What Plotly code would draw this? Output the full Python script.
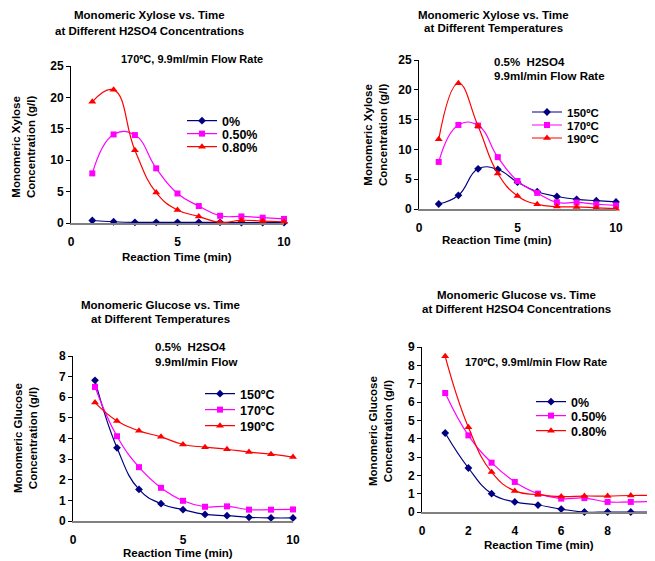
import plotly.graph_objects as go

# the page body adds an 8px margin, so the figure is drawn from (8, 8)
OFF = 8
W, H = 655 - OFF, 561 - OFF

time_min = [1, 2, 3, 4, 5, 6, 7, 8, 9, 10]

# Panel 1: Monomeric xylose vs time at different H2SO4 concentrations (170ºC)
xyl_acid_names = ["0%", "0.50%", "0.80%"]
xyl_acid_0 = [0.4, 0.2, 0.1, 0.1, 0.1, 0.1, 0.1, 0.05, 0.05, 0.05]
xyl_acid_050 = [7.9, 14.1, 14.0, 8.7, 4.7, 2.7, 1.15, 1.05, 0.85, 0.65]
xyl_acid_080 = [19.3, 21.2, 11.6, 4.85, 2.07, 1.05, 0.1, 0.43, 0.3, 0.2]

# Panel 2: Monomeric xylose vs time at different temperatures (0.5% H2SO4)
xyl_temp_names = ["150ºC", "170ºC", "190ºC"]
xyl_temp_150 = [0.84, 2.3, 6.74, 6.63, 4.5, 2.9, 2.1, 1.63, 1.4, 1.18]
xyl_temp_170 = [7.9, 14.1, 14.0, 8.7, 4.7, 2.7, 1.12, 1.1, 0.8, 0.6]
xyl_temp_190 = [11.7, 21.1, 13.9, 5.96, 2.2, 0.8, 0.4, 0.35, 0.2, 0.05]

# Panel 3: Monomeric glucose vs time at different temperatures (0.5% H2SO4)
glu_temp_names = ["150ºC", "170ºC", "190ºC"]
glu_temp_150 = [6.82, 3.55, 1.53, 0.84, 0.55, 0.32, 0.26, 0.18, 0.15, 0.15]
glu_temp_170 = [6.5, 4.11, 2.61, 1.61, 0.98, 0.69, 0.71, 0.55, 0.55, 0.56]
glu_temp_190 = [5.74, 4.85, 4.37, 4.08, 3.71, 3.58, 3.48, 3.34, 3.24, 3.1]

# Panel 4: Monomeric glucose vs time at different H2SO4 concentrations (170ºC)
glu_acid_names = ["0%", "0.50%", "0.80%"]
glu_acid_0 = [4.31, 2.4, 1.0, 0.55, 0.38, 0.16, 0.0, 0.0, 0.0, 0.0]
glu_acid_050 = [6.49, 4.18, 2.69, 1.64, 1.0, 0.73, 0.76, 0.55, 0.55, 0.58]
glu_acid_080 = [8.49, 4.62, 2.18, 1.15, 0.95, 0.84, 0.87, 0.87, 0.9, 0.9]

colors = ["#000080", "#FF00FF", "#FF0000"]
symbols = ["diamond", "square", "triangle-up"]
msizes = [6, 6, 7]
FONT = "Liberation Sans, Arial, sans-serif"


def px(x):
    return (x - OFF) / W


def py(y):
    return 1 - (y - OFF) / H


# per-panel legend placement: text-left x, centre y of each entry (window pixels), font size
legend_text_x = [222, 567, 240, 571]
legend_rows = [[121, 134, 147], [112, 125, 138], [394, 410, 426], [402, 416, 431]]
legend_font = [12.5, 11.5, 12.5, 12.5]

panels = [
    dict(xa="x", ya="y", names=xyl_acid_names,
         series=[xyl_acid_0, xyl_acid_050, xyl_acid_080]),
    dict(xa="x2", ya="y2", names=xyl_temp_names,
         series=[xyl_temp_150, xyl_temp_170, xyl_temp_190]),
    dict(xa="x3", ya="y3", names=glu_temp_names,
         series=[glu_temp_150, glu_temp_170, glu_temp_190]),
    dict(xa="x4", ya="y4", names=glu_acid_names,
         series=[glu_acid_0, glu_acid_050, glu_acid_080]),
]

fig = go.Figure()
layout = dict(
    width=W, height=H, margin=dict(l=0, r=0, t=0, b=0, autoexpand=False),
    paper_bgcolor="white", plot_bgcolor="white", showlegend=True,
    font=dict(family=FONT, size=11, color="#000000"),
)

leg_n = 0
for k, p in enumerate(panels):
    for i, (name, vals) in enumerate(zip(p["names"], p["series"])):
        leg_n += 1
        lkey = "legend" if leg_n == 1 else "legend" + str(leg_n)
        fig.add_trace(go.Scatter(
            x=time_min, y=vals, name=name, mode="lines+markers",
            xaxis=p["xa"], yaxis=p["ya"], legend=lkey, showlegend=True,
            line=dict(color=colors[i], width=1.2, shape="spline", smoothing=1.3),
            marker=dict(color=colors[i], symbol=symbols[i], size=msizes[i]),
            cliponaxis=False,
        ))
        layout[lkey] = dict(
            x=px(legend_text_x[k] - 40), y=py(legend_rows[k][i]),
            xanchor="left", yanchor="middle", visible=True,
            bgcolor="rgba(0,0,0,0)", borderwidth=0, tracegroupgap=0,
            font=dict(family=FONT, size=legend_font[k], color="#000000", weight="bold"),
            itemwidth=30,
        )

# axis pixel boxes: (x0, x1, ytop, ybottom), y max, y dtick, x dtick
boxes = [
    ((71, 284, 66, 223), 25, 5, 5),
    ((419, 616, 60, 209), 25, 5, 5),
    ((73, 293, 356, 521), 8, 1, 5),
    ((422, 654, 347, 512), 9, 1, 2),
]

for k, ((x0, x1, yt, yb), ymax, ydt, xdt) in enumerate(boxes):
    sfx = "" if k == 0 else str(k + 1)
    layout["xaxis" + sfx] = dict(
        domain=[px(x0), min(px(x1), 1.0)], range=[0, 10], dtick=xdt, tick0=0,
        anchor="y" + sfx, showgrid=False, zeroline=False, automargin=False,
        showline=True, linecolor="#808080", linewidth=1.5,
        ticks="outside", ticklen=7, tickcolor="rgba(0,0,0,0)",
        ticklabeloverflow="allow",
        tickfont=dict(family=FONT, size=12, color="#000000", weight="bold"),
        fixedrange=True,
    )
    layout["yaxis" + sfx] = dict(
        domain=[py(yb), py(yt)], range=[0, ymax], dtick=ydt, tick0=0,
        anchor="x" + sfx, showgrid=False, zeroline=False, automargin=False,
        showline=True, linecolor="#000000", linewidth=1,
        ticks="outside", ticklen=4, tickcolor="#000000",
        tickfont=dict(family=FONT, size=12, color="#000000", weight="bold"),
        fixedrange=True,
    )

fig.update_layout(**layout)

annos = []


def add_text(text, x, y, size=11, xanchor="center", angle=0):
    annos.append(dict(
        text=text, x=px(x), y=py(y), xref="paper", yref="paper",
        xanchor=xanchor, yanchor="middle", showarrow=False, textangle=angle,
        font=dict(family=FONT, size=size, color="#000000", weight="bold"),
    ))


# titles
add_text("Monomeric Xylose vs. Time", 149, 15, size=11.5)
add_text("at Different H2SO4 Concentrations", 149, 31, size=11.5)
add_text("Monomeric Xylose vs. Time", 493, 15, size=11.5)
add_text("at Different Temperatures", 493, 28, size=11.5)
add_text("Monomeric Glucose vs. Time", 160, 305, size=11.5)
add_text("at Different Temperatures", 160, 319, size=11.5)
add_text("Monomeric Glucose vs. Time", 516, 295, size=11.5)
add_text("at Different H2SO4 Concentrations", 516, 309, size=11.5)

# condition notes
add_text("170ºC, 9.9ml/min Flow Rate", 192, 59)
add_text("0.5%\u00a0 H2SO4", 492, 62, size=11.5, xanchor="left")
add_text("9.9ml/min Flow Rate", 492, 76, size=11.5, xanchor="left")
add_text("0.5%\u00a0 H2SO4", 153, 347, size=11.5, xanchor="left")
add_text("9.9ml/min Flow", 153, 362, size=11.5, xanchor="left")
add_text("170ºC, 9.9ml/min Flow Rate", 536, 362)

# axis titles
add_text("Reaction Time (min)", 177, 257, size=11.5)
add_text("Reaction Time (min)", 497, 240, size=11.5)
add_text("Reaction Time (min)", 178, 553, size=11.5)
add_text("Reaction Time (min)", 539, 545, size=11.5)
add_text("Monomeric Xylose<br>Concentration (g/l)", 23, 147, size=11.5, angle=-90)
add_text("Monomeric Xylose<br>Concentration (g/l)", 375, 135, size=11.5, angle=-90)
add_text("Monomeric Glucose<br>Concentration (g/l)", 25, 438, size=11.5, angle=-90)
add_text("Monomeric Glucose<br>Concentration (g/l)", 380, 431, size=11.5, angle=-90)

fig.update_layout(annotations=annos)

fig.write_html("out.html")
